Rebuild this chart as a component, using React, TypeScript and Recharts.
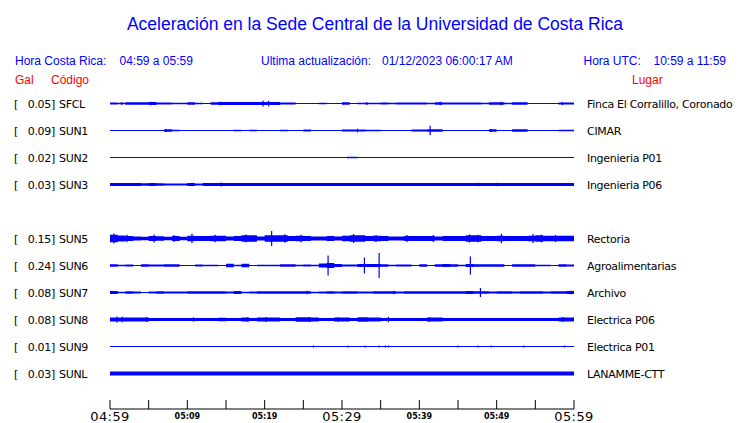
import { ComposedChart, Area, Scatter, ErrorBar, XAxis, YAxis } from 'recharts'

const BLUE = '#0000ff'
const RED = '#ff0000'

// station rows (slot 4 is empty: SUN4 not reporting)
const STATIONS = ['SFCL', 'SUN1', 'SUN2', 'SUN3', 'SUN5', 'SUN6', 'SUN7', 'SUN8', 'SUN9', 'SUNL']
const PEAK_GAL = ['0.05', '0.09', '0.02', '0.03', '0.15', '0.24', '0.08', '0.08', '0.01', '0.03']
const PLACES = [
  'Finca El Corralillo, Coronado', 'CIMAR', 'Ingenieria P01', 'Ingenieria P06', 'Rectoria',
  'Agroalimentarias', 'Archivo', 'Electrica P06', 'Electrica P01', 'LANAMME-CTT',
]
const ROWS = [0, 1, 2, 3, 5, 6, 7, 8, 9, 10]

const TIME_TICKS = [0, 5, 10, 15, 20, 25, 30, 35, 40, 45, 50, 55, 60]
const TIME_LABELS = ['04:59', '05:09', '05:19', '05:29', '05:39', '05:49', '05:59']

// envelope per minute (04:59 .. 05:58), trace units
const SFCL = [1.0, 0.8, 1.3, 1.3, 1.3, 1.4, 1.0, 1.0, 0.8, 0.8, 1.2, 0.8, 0.6, 1.3, 1.4, 1.4, 1.4, 1.4, 1.5, 1.6, 1.6, 1.5, 1.0, 1.0, 0.5, 0.5, 0.5, 0.7, 0.6, 0.5, 1.2, 0.6, 0.7, 0.7, 0.7, 1.1, 0.7, 0.9, 1.1, 1.1, 0.9, 0.8, 1.3, 1.1, 1.1, 0.9, 1.1, 1.1, 0.7, 1.3, 1.3, 0.7, 1.2, 1.2, 0.6, 0.6, 0.5, 0.6, 1.1, 1.1]
const SUN1 = [0.5, 0.5, 0.5, 0.5, 0.5, 0.5, 0.6, 1.3, 0.7, 0.5, 0.5, 0.5, 0.5, 0.5, 0.5, 0.5, 0.7, 0.5, 0.7, 0.5, 0.5, 0.5, 0.7, 0.5, 0.5, 0.9, 0.5, 0.5, 0.5, 0.5, 0.9, 1.1, 1.0, 0.7, 0.7, 0.5, 0.5, 0.5, 0.5, 1.1, 1.1, 1.3, 1.3, 0.5, 0.5, 0.5, 0.5, 0.6, 0.5, 1.3, 0.5, 0.6, 1.2, 1.2, 0.5, 0.6, 0.5, 0.5, 0.7, 0.7]
const SUN2 = [0.5, 0.5, 0.5, 0.5, 0.5, 0.5, 0.5, 0.5, 0.5, 0.5, 0.5, 0.5, 0.5, 0.5, 0.5, 0.5, 0.5, 0.5, 0.5, 0.5, 0.5, 0.5, 0.5, 0.5, 0.5, 0.5, 0.5, 0.5, 0.5, 0.5, 0.5, 0.7, 0.5, 0.5, 0.5, 0.5, 0.5, 0.5, 0.5, 0.5, 0.5, 0.5, 0.5, 0.5, 0.5, 0.5, 0.5, 0.5, 0.5, 0.5, 0.5, 0.5, 0.5, 0.5, 0.5, 0.5, 0.5, 0.5, 0.5, 0.5]
const SUN3 = [1.4, 1.4, 1.4, 1.4, 1.3, 1.4, 1.2, 1.0, 1.0, 0.9, 1.4, 1.1, 1.4, 1.4, 1.5, 1.4, 1.4, 1.4, 1.4, 1.4, 1.4, 1.4, 1.4, 1.4, 1.5, 1.5, 1.5, 1.5, 1.5, 1.5, 1.5, 1.5, 1.5, 1.5, 1.5, 1.5, 1.5, 1.5, 1.5, 1.5, 1.5, 1.5, 1.5, 1.5, 1.5, 1.5, 1.5, 1.5, 1.5, 1.5, 1.5, 1.5, 1.5, 1.5, 1.5, 1.5, 1.5, 1.5, 1.5, 1.5]
const SUN5 = [3.8, 3.0, 2.6, 2.0, 1.8, 2.4, 2.3, 1.8, 2.4, 1.8, 2.8, 2.4, 2.4, 2.8, 2.8, 2.0, 2.4, 3.2, 3.2, 2.0, 3.2, 3.2, 3.2, 2.4, 2.8, 2.4, 2.0, 2.0, 2.4, 2.0, 2.8, 3.2, 3.2, 2.4, 2.8, 2.4, 1.9, 1.9, 2.4, 2.4, 2.4, 2.4, 2.0, 2.4, 2.4, 2.4, 3.2, 3.2, 2.4, 2.4, 2.8, 2.4, 2.4, 2.4, 2.8, 3.2, 2.8, 2.8, 2.8, 2.8]
const SUN6 = [1.2, 0.8, 1.0, 0.5, 1.3, 1.0, 0.9, 1.3, 1.3, 0.5, 0.5, 1.0, 0.8, 0.8, 0.5, 1.8, 0.8, 1.8, 0.5, 0.8, 0.8, 0.8, 1.2, 1.2, 0.8, 1.0, 0.8, 2.0, 2.5, 1.5, 1.0, 1.0, 1.5, 1.5, 1.5, 1.2, 0.8, 0.9, 0.9, 0.5, 1.2, 0.5, 1.2, 1.5, 1.2, 0.8, 1.5, 1.2, 1.3, 1.2, 1.2, 0.5, 1.2, 1.2, 1.2, 0.8, 0.8, 0.5, 1.2, 1.0]
const SUN7 = [1.5, 0.8, 1.2, 1.0, 0.6, 1.0, 1.2, 1.0, 1.0, 1.0, 1.2, 1.2, 1.2, 1.2, 1.2, 1.0, 1.5, 0.8, 1.0, 1.2, 1.2, 1.2, 1.2, 1.2, 1.2, 1.2, 0.8, 1.0, 1.2, 1.0, 1.2, 1.2, 1.0, 1.0, 1.2, 1.2, 1.2, 1.0, 1.2, 1.3, 1.2, 1.2, 1.2, 1.2, 1.3, 1.2, 1.5, 1.2, 1.2, 1.0, 1.2, 1.2, 1.0, 1.2, 1.2, 1.2, 1.0, 1.2, 1.2, 1.4]
const SUN8 = [2.0, 2.0, 2.0, 2.0, 2.0, 1.5, 1.5, 1.5, 1.5, 1.5, 1.6, 1.5, 1.5, 1.6, 1.8, 1.5, 1.6, 2.0, 1.6, 2.0, 2.0, 2.0, 1.5, 1.5, 2.2, 2.2, 2.0, 1.5, 1.6, 2.0, 2.0, 1.6, 2.2, 2.0, 2.0, 1.5, 1.6, 1.6, 1.5, 1.5, 1.5, 2.0, 2.0, 1.5, 1.5, 1.6, 1.6, 1.5, 1.5, 1.6, 1.5, 1.5, 1.6, 1.5, 1.5, 1.5, 1.5, 1.5, 2.0, 2.0]
const SUN9 = [0.5, 0.5, 0.5, 0.5, 0.5, 0.5, 0.5, 0.5, 0.5, 0.5, 0.5, 0.5, 0.5, 0.5, 0.5, 0.5, 0.5, 0.5, 0.5, 0.5, 0.5, 0.5, 0.5, 0.5, 0.5, 0.5, 0.5, 0.5, 0.5, 0.5, 0.5, 0.5, 0.5, 0.5, 0.5, 0.5, 0.5, 0.5, 0.5, 0.5, 0.5, 0.5, 0.5, 0.5, 0.5, 0.5, 0.5, 0.5, 0.5, 0.5, 0.5, 0.5, 0.5, 0.5, 0.5, 0.5, 0.5, 0.5, 0.5, 0.5]
const SUNL = [2.0, 2.0, 2.0, 2.0, 2.0, 2.0, 2.0, 2.0, 2.0, 2.0, 2.0, 2.0, 2.0, 2.0, 2.0, 2.0, 2.0, 2.0, 2.0, 2.0, 2.0, 2.0, 2.0, 2.0, 2.0, 2.0, 2.0, 2.0, 2.0, 2.0, 2.0, 2.0, 2.0, 2.0, 2.0, 2.0, 2.0, 2.0, 2.0, 2.0, 2.0, 2.0, 2.0, 2.0, 2.0, 2.0, 2.0, 2.0, 2.0, 2.0, 2.0, 2.0, 2.0, 2.0, 2.0, 2.0, 2.0, 2.0, 2.0, 2.0]

// isolated spikes: [minute, amplitude]
const SFCL_PEAKS = [[1.5, 1.6], [5.3, 1.8], [14.2, 1.7], [19.8, 3.0], [20.5, 2.8], [33.2, 1.6], [42.7, 1.8], [50.6, 1.8], [58.5, 1.6]]
const SUN1_PEAKS = [[7.2, 1.5], [32.0, 1.8], [41.4, 4.8], [49.3, 1.6]]
const SUN2_PEAKS = [[30.8, 0.9]]
const SUN3_PEAKS = [[10.6, 1.8], [14.4, 2.0], [18.4, 1.6], [21.3, 1.6], [47.6, 1.8], [50.1, 1.8]]
const SUN5_PEAKS = [[0.5, 5.0], [2.2, 3.8], [5.7, 4.0], [8.3, 3.6], [10.6, 4.7], [13.6, 3.8], [17.6, 4.0], [20.9, 7.5], [22.6, 4.2], [24.7, 3.8], [31.5, 4.5], [34.4, 3.6], [38.4, 3.4], [41.8, 3.6], [46.5, 4.0], [47.6, 3.8], [50.6, 4.8], [54.7, 4.5], [55.8, 3.8], [57.6, 3.6]]
const SUN6_PEAKS = [[28.2, 10], [32.9, 8], [34.8, 12.5], [46.6, 9]]
const SUN7_PEAKS = [[25.5, 1.8], [36.7, 1.8], [47.9, 4.5], [59.6, 1.8]]
const SUN8_PEAKS = [[0.9, 3.0], [1.6, 2.8], [4.8, 2.4], [10.8, 2.2], [17.8, 2.3], [20.2, 2.4], [25.8, 2.4], [29.5, 2.3], [33.2, 2.4], [36.0, 2.7], [41.3, 2.3], [58.6, 2.4]]
const SUN9_PEAKS = [[26.3, 1.0], [30.8, 1.0], [33.0, 0.9], [34.8, 0.9], [35.6, 1.0], [36.0, 0.9], [45.0, 0.9], [47.6, 1.0], [49.3, 1.0], [53.5, 1.0], [58.8, 0.9]]
const SUNL_PEAKS: number[][] = []

const ENVELOPES = [SFCL, SUN1, SUN2, SUN3, SUN5, SUN6, SUN7, SUN8, SUN9, SUNL]
const PEAKS = [SFCL_PEAKS, SUN1_PEAKS, SUN2_PEAKS, SUN3_PEAKS, SUN5_PEAKS, SUN6_PEAKS, SUN7_PEAKS, SUN8_PEAKS, SUN9_PEAKS, SUNL_PEAKS]

const UNITS_PER_ROW = 27
const AXIS_Y = 409

const samples = [
  { t: 0, i: 0 },
  ...SFCL.map((_, i) => ({ t: i + 0.5, i })),
  { t: 60, i: SFCL.length - 1 },
]

function TimeTick(props: any) {
  const { x, payload } = props
  const v = payload.value
  const label = v % 10 === 0 ? TIME_LABELS[v / 10] : null
  const big = v % 30 === 0
  return (
    <g>
      <line x1={x} x2={x} y1={AXIS_Y - 9} y2={AXIS_Y} stroke="#000" />
      {label && (
        <text
          x={x} y={big ? 421 : 418.5} textAnchor="middle" fill="#000"
          fontFamily="DejaVu Sans" fontSize={big ? 13 : 8} fontWeight={big ? 'normal' : 'bold'}
          letterSpacing={big ? 0.4 : 0}
        >{label}</text>
      )}
    </g>
  )
}

function StationTick(props: any) {
  const { y, payload } = props
  const k = ROWS.indexOf(payload.value)
  if (k < 0) return <g />
  const ty = y + 4
  return (
    <g fontFamily="DejaVu Sans" fontSize={11} fill="#000" letterSpacing={-0.3}>
      <text x={14} y={ty}>[</text>
      <text x={55} y={ty} textAnchor="end">{PEAK_GAL[k]}]</text>
      <text x={59} y={ty}>{STATIONS[k]}</text>
      <text x={587} y={ty}>{PLACES[k]}</text>
    </g>
  )
}

export default function App() {
  return (
    <div style={{ position: 'absolute', left: 0, top: 0, width: 740, height: 423, background: '#fff' }}>
      <ComposedChart width={740} height={423} data={samples} margin={{ top: 88, right: 166, bottom: 0, left: 0 }}>
        <XAxis
          dataKey="t" type="number" domain={[0, 60]} ticks={TIME_TICKS} interval={0}
          tick={(p: any) => <TimeTick {...p} />} tickLine={false}
          axisLine={{ stroke: '#000' }} height={14} allowDataOverflow
        />
        <YAxis
          type="number" domain={[-15.5 / 27, 10 + 35.5 / 27]} reversed ticks={ROWS} interval={0}
          tick={(p: any) => <StationTick {...p} />} tickLine={false} axisLine={false}
          width={110} allowDataOverflow
        />
        {STATIONS.map((s, k) => (
          <Area
            key={s}
            dataKey={(d: any) => [
              ROWS[k] - ENVELOPES[k][d.i] / UNITS_PER_ROW,
              ROWS[k] + ENVELOPES[k][d.i] / UNITS_PER_ROW,
            ]}
            type="step" stroke="none" fill={BLUE} fillOpacity={1}
            dot={false} activeDot={false} isAnimationActive={false}
          />
        ))}
        {STATIONS.map((s, k) => PEAKS[k].length > 0 && (
          <Scatter
            key={'p' + s}
            data={PEAKS[k].map(([t, a]) => ({ t, y: ROWS[k], err: a / UNITS_PER_ROW }))}
            dataKey="y" shape={() => <g />} isAnimationActive={false}
          >
            <ErrorBar dataKey="err" direction="y" width={0} stroke={BLUE} strokeWidth={1.2} isAnimationActive={false} />
          </Scatter>
        ))}
      </ComposedChart>
      <svg width={740} height={90} style={{ position: 'absolute', left: 0, top: 0 }}>
        <g fontFamily="Liberation Sans, Arial, sans-serif">
          <text x={375} y={30} textAnchor="middle" fontSize={17.5} fill={BLUE}>
            Aceleración en la Sede Central de la Universidad de Costa Rica
          </text>
          <g fontSize={12} fill={BLUE}>
            <text x={15} y={65}>Hora Costa Rica:</text>
            <text x={119.5} y={65}>04:59 a 05:59</text>
            <text x={261} y={65}>Ultima actualización:</text>
            <text x={382} y={65}>01/12/2023 06:00:17 AM</text>
            <text x={583.5} y={65}>Hora UTC:</text>
            <text x={653.5} y={65}>10:59 a 11:59</text>
          </g>
          <g fontSize={12} fill={RED}>
            <text x={15} y={84}>Gal</text>
            <text x={51} y={84}>Código</text>
            <text x={632} y={84}>Lugar</text>
          </g>
        </g>
      </svg>
    </div>
  )
}
